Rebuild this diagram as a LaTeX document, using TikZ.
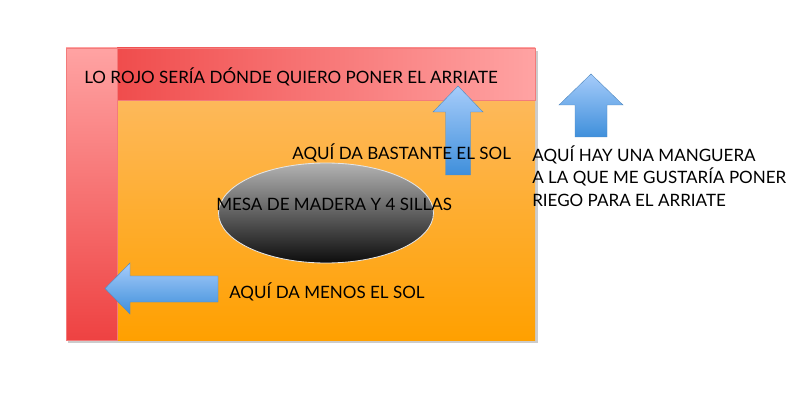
\documentclass[tikz,border=0pt]{standalone}
\usepackage{fontspec}
\setmainfont{Lato}
\definecolor{naranjaclaro}{HTML}{FDBE6E}
\definecolor{naranja}{HTML}{FFA000}
\definecolor{rojo}{HTML}{EE4242}
\definecolor{rosa}{HTML}{FFA3A3}
\definecolor{azulclaro}{HTML}{A6CCFA}
\definecolor{azul}{HTML}{3F8FDB}
\tikzset{
  flecha/.style={top color=azulclaro, bottom color=azul, draw=azul!70!gray, line width=0.3pt},
  texto/.style={anchor=west, inner sep=0pt, font=\fontsize{12.1}{16}\selectfont}
}
\begin{document}
\begin{tikzpicture}[x=0.025cm, y=-0.025cm]

        \useasboundingbox (0, 0) rectangle (793, 418);

        \fill[black!20] (68, 51) rectangle (538, 343);
        \shade[top color=naranjaclaro, bottom color=naranja] (66, 48) rectangle (535, 340);
        \shade[left color=rojo, right color=rosa, draw=rojo!70] (66, 48) rectangle (535, 100);
        \shade[top color=rosa, bottom color=rojo, draw=rojo!70] (66, 48) rectangle (117, 340);

        \shade[top color=black!30, bottom color=black!95, draw=white!80!gray, line width=0.6pt] (326, 213) ellipse (107.5 and 50);

        \shade[flecha] (445.5, 175) -- (445.5, 112) -- (433, 112) -- (458, 86) -- (483, 112) -- (470.5, 112) -- (470.5, 175) -- cycle;
        \shade[flecha] (575, 137) -- (575, 105) -- (559, 105) -- (591, 74) -- (623, 105) -- (607, 105) -- (607, 137) -- cycle;
        \shade[flecha] (218, 276) -- (130, 276) -- (130, 263) -- (105, 288.5) -- (130, 314) -- (130, 302) -- (218, 302) -- cycle;

        \node[texto] (rojo) at (84, 77) {LO ROJO SERÍA DÓNDE QUIERO PONER EL ARRIATE};
        \node[texto] (bastante) at (292, 153) {AQUÍ DA BASTANTE EL SOL};
        \node[texto] (mesa) at (216, 204) {MESA DE MADERA Y 4 SILLAS};
        \node[texto] (menos) at (229, 292) {AQUÍ DA MENOS EL SOL};
        \node[texto, align=left] (manguera) at (532, 176) {AQUÍ HAY UNA MANGUERA\\A LA QUE ME GUSTARÍA PONER\\RIEGO PARA EL ARRIATE};

\end{tikzpicture}
\end{document}
